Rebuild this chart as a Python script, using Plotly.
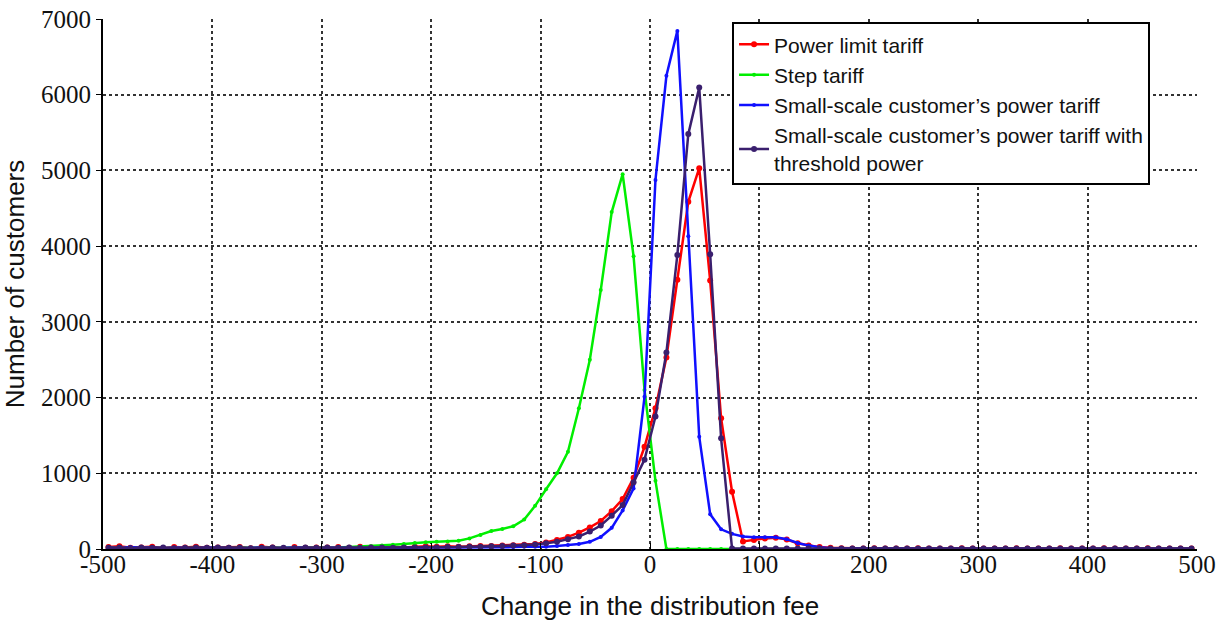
import plotly.graph_objects as go

# Bin centres of the fee change (10-unit bins from -500 to 500)
fee_change = list(range(-495, 500, 10))

x_tick_values = [-500, -400, -300, -200, -100, 0, 100, 200, 300, 400, 500]
x_tick_labels = ["-500", "-400", "-300", "-200", "-100", "0",
                 "100", "200", "300", "400", "500"]

power_limit = [
    25, 35, 15, 20, 30, 10, 25, 20, 30, 15,
    20, 15, 25, 10, 30, 20, 5, 25, 15, 20,
    20, 25, 15, 30, 20, 25, 30, 20, 30, 35,
    30, 35, 30, 35, 40, 40, 45, 50, 55, 65,
    85, 120, 160, 215, 285, 370, 500, 660, 940, 1350,
    1860, 2530, 3555, 4585, 5030, 3545, 1727, 757, 100, 120,
    140, 150, 125, 75, 45, 25, 15, 10, 8, 5,
    10, 5, 8, 5, 10, 5, 8, 5, 10, 5,
    5, 8, 5, 10, 5, 8, 5, 10, 5, 8,
    5, 10, 5, 8, 5, 10, 5, 8, 5, 5,
]

step = [
    15, 10, 15, 10, 15, 10, 15, 10, 15, 10,
    15, 10, 15, 15, 10, 15, 15, 20, 15, 20,
    20, 20, 25, 30, 35, 45, 55, 65, 80, 90,
    97, 100, 110, 140, 185, 238, 265, 300, 390, 570,
    790, 1000, 1285, 1858, 2500, 3420, 4450, 4950, 3865, 2100,
    900, 0, 0, 0, 0, 0, 0, 0, 0, 0,
    0, 0, 0, 0, 0, 0, 0, 0, 0, 0,
    0, 0, 0, 0, 0, 0, 0, 0, 0, 0,
    0, 0, 0, 0, 0, 0, 0, 0, 0, 0,
    0, 0, 0, 0, 0, 0, 0, 0, 0, 0,
]

small_scale = [
    20, 10, 25, 15, 20, 10, 20, 15, 10, 20,
    15, 20, 10, 15, 20, 10, 15, 20, 15, 10,
    15, 20, 15, 10, 15, 20, 15, 20, 15, 20,
    20, 20, 25, 20, 25, 25, 25, 25, 30, 30,
    30, 40, 53, 65, 95, 160, 280, 510, 800, 2010,
    4875, 6250, 6843, 4130, 1484, 460, 260, 200, 165, 155,
    155, 155, 130, 80, 45, 22, 10, 5, 5, 5,
    5, 3, 5, 3, 5, 3, 5, 3, 5, 3,
    5, 3, 5, 3, 5, 3, 5, 3, 5, 3,
    5, 3, 5, 3, 5, 3, 5, 3, 5, 3,
]

small_scale_threshold = [
    15, 20, 10, 20, 15, 20, 10, 15, 20, 15,
    20, 15, 20, 10, 15, 20, 15, 10, 20, 15,
    20, 15, 20, 15, 20, 20, 15, 20, 20, 20,
    20, 25, 25, 30, 30, 35, 40, 45, 50, 60,
    75, 95, 130, 165, 230, 310, 440, 580, 880, 1180,
    1750, 2595, 3884, 5480, 6094, 3893, 1462, 5, 5, 5,
    5, 5, 5, 5, 5, 5, 5, 5, 5, 5,
    5, 5, 5, 5, 5, 5, 5, 5, 5, 5,
    5, 5, 5, 5, 5, 5, 5, 5, 5, 5,
    5, 5, 5, 5, 5, 5, 5, 5, 5, 5,
]

series = [
    ("Power limit tariff", power_limit, "#ff0000", 6),
    ("Step tariff", step, "#00ee00", 4),
    ("Small-scale customer\u2019s power tariff", small_scale, "#1010ff", 4),
    ("Small-scale customer\u2019s power tariff with<br>threshold power",
     small_scale_threshold, "#3a1f6e", 6),
]

fig = go.Figure()
for name, values, color, msize in series:
    fig.add_trace(go.Scatter(
        x=fee_change, y=values, name=name, mode="lines+markers",
        line=dict(color=color, width=2.5),
        marker=dict(color=color, size=msize),
    ))

tick_font = dict(family="Liberation Serif, Times New Roman, serif", size=25, color="#111")
title_font = dict(family="Liberation Sans, Arial, sans-serif", size=26, color="#111")

fig.update_layout(
    width=1227, height=631,
    margin=dict(l=103, r=30, t=19, b=82),
    paper_bgcolor="white", plot_bgcolor="white",
    showlegend=True,
    legend=dict(
        x=0.575, y=0.994, xanchor="left", yanchor="top",
        bgcolor="white", bordercolor="black", borderwidth=2,
        font=dict(family="Liberation Sans, Arial, sans-serif", size=21, color="#111"),
    ),
)
fig.update_xaxes(
    range=[-500, 500], tickvals=x_tick_values, ticktext=x_tick_labels,
    showgrid=True, gridcolor="#333", gridwidth=1.5, griddash="dot",
    showline=True, linecolor="black", linewidth=2,
    ticks="inside", ticklen=6, tickcolor="black",
    ticklabelstandoff=-8,
    zeroline=False, tickfont=tick_font, automargin=False,
    title=dict(text="Change in the distribution fee", font=title_font, standoff=20),
)
fig.update_yaxes(
    range=[0, 7000], dtick=1000,
    showgrid=True, gridcolor="#333", gridwidth=1.5, griddash="dot",
    showline=True, linecolor="black", linewidth=2,
    ticks="outside", ticklen=5, tickcolor="black",
    zeroline=False, tickfont=tick_font, automargin=False,
    title=dict(text="Number of customers", font=title_font, standoff=14),
)

fig.write_html("out.html")
